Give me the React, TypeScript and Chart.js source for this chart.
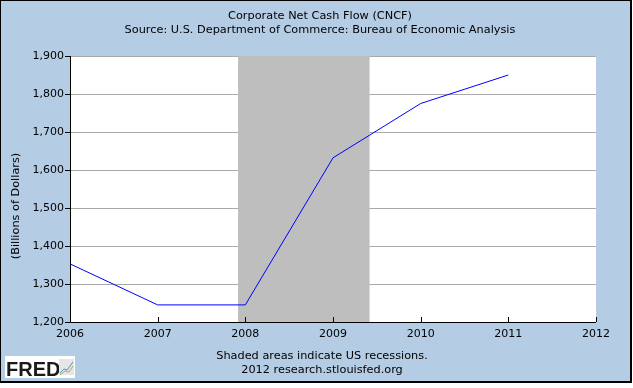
import React, { useEffect, useRef } from "react";
import { Chart, registerables } from "chart.js";

Chart.register(...registerables);

const years = [2006, 2007, 2008, 2009, 2010, 2011];
const cashFlow = [1353, 1245, 1245, 1632, 1775, 1850];
const recessionStart = [2007.917];
const recessionEnd = [2009.417];
const titleLines = [
  "Corporate Net Cash Flow (CNCF)",
  "Source: U.S. Department of Commerce: Bureau of Economic Analysis",
];
const footerLines = ["Shaded areas indicate US recessions.", "2012 research.stlouisfed.org"];
const yTitle = "(Billions of Dollars)";

const BG = "#b4cde4";
const FONT = "DejaVu Sans";

const decorPlugin = {
  id: "decor",
  beforeDraw(chart: any) {
    const ctx = chart.ctx;
    ctx.save();
    ctx.fillStyle = "#ffffff";
    ctx.fillRect(0, 0, chart.width, chart.height);
    ctx.fillStyle = BG;
    ctx.fillRect(0, 0, 631, 382);
    const a = chart.chartArea;
    ctx.fillStyle = "#ffffff";
    ctx.fillRect(a.left, a.top, a.right - a.left, a.bottom - a.top);
    ctx.restore();
  },
  beforeDatasetsDraw(chart: any) {
    const ctx = chart.ctx;
    const a = chart.chartArea;
    const xs = chart.scales.x;
    ctx.save();
    ctx.fillStyle = "#bebebe";
    for (let i = 0; i < recessionStart.length; i++) {
      const x0 = xs.getPixelForValue(recessionStart[i]);
      const x1 = xs.getPixelForValue(recessionEnd[i]);
      ctx.fillRect(x0, a.top, x1 - x0, a.bottom - a.top);
    }
    ctx.restore();
  },
  afterDatasetsDraw(chart: any) {
    const ctx = chart.ctx;
    const a = chart.chartArea;
    const xs = chart.scales.x;
    ctx.save();
    ctx.strokeStyle = "#000";
    ctx.lineWidth = 1;
    ctx.beginPath();
    ctx.moveTo(Math.round(a.left) + 0.5, a.top);
    ctx.lineTo(Math.round(a.left) + 0.5, Math.round(a.bottom) + 0.5);
    ctx.lineTo(a.right, Math.round(a.bottom) + 0.5);
    for (let y = 2006; y <= 2012; y++) {
      const px = Math.round(xs.getPixelForValue(y)) + 0.5;
      ctx.moveTo(px, Math.round(a.bottom));
      ctx.lineTo(px, Math.round(a.bottom) - 5);
    }
    ctx.stroke();
    ctx.restore();
  },
  afterDraw(chart: any) {
    const ctx = chart.ctx;
    ctx.save();
    ctx.fillStyle = "#000";
    ctx.font = `11.3px "${FONT}"`;
    ctx.textAlign = "center";
    ctx.textBaseline = "middle";
    ctx.fillText(titleLines[0], 320, 16);
    ctx.fillText(titleLines[1], 320, 30);
    ctx.fillText(footerLines[0], 322, 356);
    ctx.fillText(footerLines[1], 322, 370);
    ctx.save();
    ctx.translate(16, 206);
    ctx.rotate(-Math.PI / 2);
    ctx.fillText(yTitle, 0, 0);
    ctx.restore();
    // frame
    ctx.fillRect(0, 0, 631, 1);
    ctx.fillRect(0, 0, 1, 382);
    ctx.fillRect(630, 0, 2, 383);
    ctx.fillRect(0, 381, 632, 2);
    // FRED logo
    ctx.fillStyle = "#ffffff";
    ctx.fillRect(5, 356, 70, 22);
    ctx.fillStyle = "#1a1a1a";
    ctx.font = `bold 20px "Liberation Sans"`;
    ctx.textAlign = "left";
    ctx.textBaseline = "alphabetic";
    ctx.fillText("FRED", 6, 376);
    ctx.fillStyle = "#e6e6e6";
    ctx.fillRect(59, 359, 15, 16);
    ctx.strokeStyle = "#5a8fc9";
    ctx.lineWidth = 1;
    ctx.beginPath();
    ctx.moveTo(60, 373); ctx.lineTo(64, 369); ctx.lineTo(67, 370); ctx.lineTo(73, 362);
    ctx.stroke();
    ctx.strokeStyle = "#8cbf4a";
    ctx.beginPath();
    ctx.moveTo(60, 375); ctx.lineTo(65, 371); ctx.lineTo(69, 372); ctx.lineTo(73, 366);
    ctx.stroke();
    ctx.restore();
  },
};

export default function App() {
  const ref = useRef<HTMLCanvasElement | null>(null);
  useEffect(() => {
    if (!ref.current) return;
    const chart = new Chart(ref.current, {
      type: "line",
      data: {
        datasets: [
          {
            data: years.map((y, i) => ({ x: y, y: cashFlow[i] })),
            borderColor: "#0000ff",
            borderWidth: 1,
            pointRadius: 0,
            tension: 0,
            fill: false,
          },
        ],
      },
      options: {
        responsive: false,
        animation: false,
        events: [],
        layout: { padding: { left: 0, top: 56, right: 37, bottom: 46 } },
        plugins: { legend: { display: false }, tooltip: { enabled: false }, title: { display: false } },
        scales: {
          x: {
            type: "linear",
            min: 2006,
            max: 2012,
            afterFit: (s: any) => { s.height = 20; },
            grid: { display: false, drawTicks: false },
            border: { display: false },
            ticks: {
              stepSize: 1,
              padding: 6,
              color: "#000",
              font: { family: FONT, size: 11 },
              callback: (v: any) => String(v),
              maxRotation: 0,
              autoSkip: false,
            },
          },
          y: {
            min: 1200,
            max: 1900,
            afterFit: (s: any) => { s.width = 70; },
            grid: { color: "#aaaaaa", tickColor: "#000", tickLength: 5, lineWidth: 1 },
            border: { display: false },
            ticks: {
              stepSize: 100,
              padding: 1,
              color: "#000",
              font: { family: FONT, size: 11 },
              callback: (v: any) => Number(v).toLocaleString("en-US"),
            },
          },
        },
      },
      plugins: [decorPlugin],
    });
    return () => chart.destroy();
  }, []);
  return (
    <div style={{ position: "fixed", left: 0, top: 0, width: 633, height: 388 }}>
      <canvas ref={ref} width={633} height={388} style={{ display: "block" }} />
    </div>
  );
}
